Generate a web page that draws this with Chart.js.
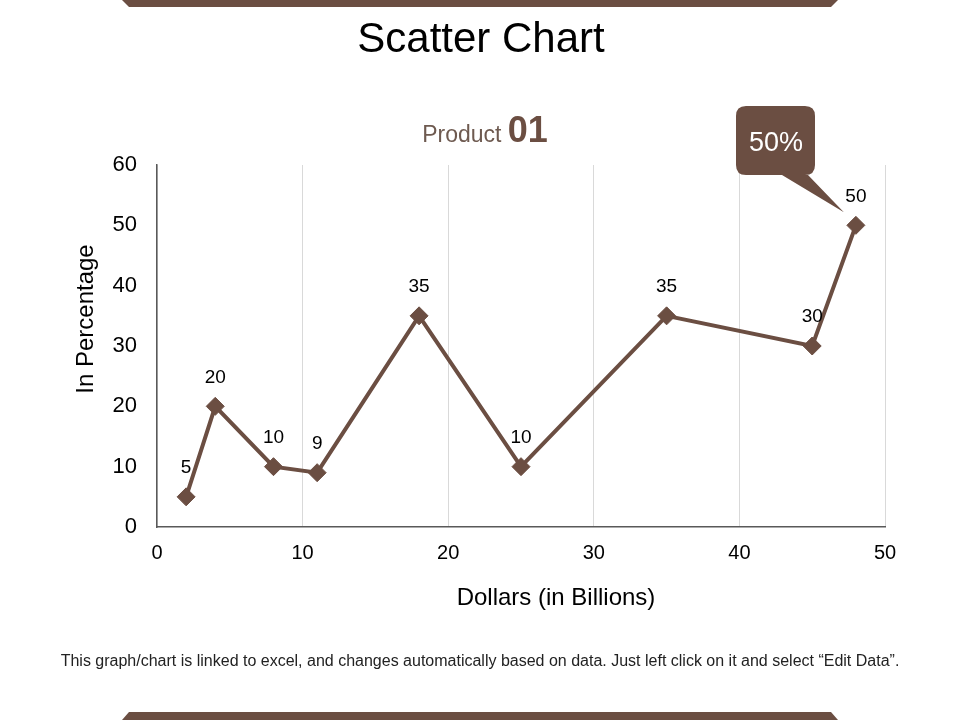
<!DOCTYPE html>
<html>
<head>
<meta charset="utf-8">
<script src="https://cdn.jsdelivr.net/npm/chart.js@4.4.1/dist/chart.umd.min.js"></script>
<style>
  html, body { margin: 0; padding: 0; background: #ffffff; }
  #wrap { width: 960px; height: 720px; position: relative; }
</style>
</head>
<body>
<div id="wrap"><canvas id="c" width="960" height="720"></canvas></div>
<script>
// ---- Data ----
const xValues = [2, 4, 8, 11, 18, 25, 35, 45, 48];
const yValues = [5, 20, 10, 9, 35, 10, 35, 30, 50];
const pointLabels = ['5', '20', '10', '9', '35', '10', '35', '30', '50'];
const xTicks = [0, 10, 20, 30, 40, 50];
const yTicks = [0, 10, 20, 30, 40, 50, 60];
const calloutText = '50%';
const calloutIndex = 8;
const titleText = 'Scatter Chart';
const subtitleWord = 'Product';
const subtitleNum = '01';
const xTitle = 'Dollars (in Billions)';
const yTitle = 'In Percentage';
const footerText = 'This graph/chart is linked to excel, and changes automatically based on data. Just left click on it and select \u201CEdit Data\u201D.';

const BROWN = '#6b4e42';
const FONT = '"Liberation Sans", Arial, sans-serif';

const points = xValues.map((x, i) => ({ x: x, y: yValues[i] }));

const decorPlugin = {
  id: 'decor',
  afterDraw(chart) {
    const ctx = chart.ctx;
    ctx.save();
    // top band
    ctx.fillStyle = BROWN;
    ctx.beginPath();
    ctx.moveTo(122, 0); ctx.lineTo(838, 0); ctx.lineTo(831, 7); ctx.lineTo(129, 7);
    ctx.closePath(); ctx.fill();
    // bottom band
    ctx.beginPath();
    ctx.moveTo(129, 712); ctx.lineTo(831, 712); ctx.lineTo(838, 720); ctx.lineTo(122, 720);
    ctx.closePath(); ctx.fill();

    // title
    ctx.fillStyle = '#000000';
    ctx.font = '42px ' + FONT;
    ctx.textAlign = 'center';
    ctx.textBaseline = 'alphabetic';
    ctx.fillText(titleText, 481, 52);

    // subtitle "Product 01"
    ctx.font = '23px ' + FONT;
    const w1 = ctx.measureText(subtitleWord + ' ').width;
    ctx.font = 'bold 36px ' + FONT;
    const w2 = ctx.measureText(subtitleNum).width;
    const sx = 485 - (w1 + w2) / 2;
    ctx.textAlign = 'left';
    ctx.font = '23px ' + FONT;
    ctx.fillStyle = '#6e5a50';
    ctx.fillText(subtitleWord + ' ', sx, 142);
    ctx.font = 'bold 36px ' + FONT;
    ctx.fillStyle = BROWN;
    ctx.fillText(subtitleNum, sx + w1, 142);

    // axis titles
    ctx.fillStyle = '#000000';
    ctx.font = '24px ' + FONT;
    ctx.textAlign = 'center';
    ctx.textBaseline = 'middle';
    ctx.fillText(xTitle, 556, 598);
    ctx.save();
    ctx.translate(86, 319);
    ctx.rotate(-Math.PI / 2);
    ctx.fillText(yTitle, 0, 0);
    ctx.restore();

    // data labels
    const meta = chart.getDatasetMeta(0);
    ctx.font = '19px ' + FONT;
    ctx.fillStyle = '#000000';
    meta.data.forEach((el, i) => {
      ctx.fillText(pointLabels[i], el.x, el.y - 29);
    });

    // callout
    const p = meta.data[calloutIndex];
    const bx = 736, by = 106, bw = 79, bh = 69, r = 10;
    ctx.fillStyle = BROWN;
    ctx.beginPath();
    ctx.moveTo(bx + r, by);
    ctx.lineTo(bx + bw - r, by);
    ctx.quadraticCurveTo(bx + bw, by, bx + bw, by + r);
    ctx.lineTo(bx + bw, by + bh - r);
    ctx.quadraticCurveTo(bx + bw, by + bh, bx + bw - r, by + bh);
    ctx.lineTo(808, by + bh);
    ctx.lineTo(p.x - 12, p.y - 13);
    ctx.lineTo(782, by + bh);
    ctx.lineTo(bx + r, by + bh);
    ctx.quadraticCurveTo(bx, by + bh, bx, by + bh - r);
    ctx.lineTo(bx, by + r);
    ctx.quadraticCurveTo(bx, by, bx + r, by);
    ctx.closePath();
    ctx.fill();
    ctx.fillStyle = '#ffffff';
    ctx.font = '27px ' + FONT;
    ctx.fillText(calloutText, bx + bw / 2 + 0.5, by + 38);

    // footer
    ctx.fillStyle = '#222222';
    ctx.font = '16px ' + FONT;
    ctx.fillText(footerText, 480, 662);
    ctx.restore();
  }
};

new Chart(document.getElementById('c'), {
  type: 'scatter',
  data: {
    datasets: [{
      data: points,
      showLine: true,
      borderColor: BROWN,
      backgroundColor: BROWN,
      borderWidth: 4,
      pointStyle: 'rectRot',
      pointRadius: 9,
      pointHoverRadius: 9,
      pointBorderWidth: 1,
      pointBorderColor: BROWN,
      pointBackgroundColor: BROWN,
      tension: 0
    }]
  },
  options: {
    responsive: false,
    animation: false,
    devicePixelRatio: 1,
    layout: { padding: { top: 165, right: 75, left: 0, bottom: 0 } },
    plugins: { legend: { display: false }, tooltip: { enabled: false }, title: { display: false } },
    scales: {
      x: {
        type: 'linear',
        min: xTicks[0],
        max: xTicks[xTicks.length - 1],
        afterBuildTicks(scale) { scale.ticks = xTicks.map(v => ({ value: v })); },
        afterFit(scale) { scale.height = 193; },
        grid: { display: true, color: '#d9d9d9', lineWidth: 1, drawTicks: false },
        border: { display: true, color: '#595959', width: 1.5 },
        ticks: { color: '#000000', font: { family: FONT, size: 20 }, padding: 14 }
      },
      y: {
        min: yTicks[0],
        max: yTicks[yTicks.length - 1],
        afterBuildTicks(scale) { scale.ticks = yTicks.map(v => ({ value: v })); },
        afterFit(scale) { scale.width = 157; },
        grid: { display: false, drawTicks: false },
        border: { display: true, color: '#595959', width: 1.5 },
        ticks: { color: '#000000', font: { family: FONT, size: 22 }, padding: 20 }
      }
    }
  },
  plugins: [decorPlugin]
});
</script>
</body>
</html>
